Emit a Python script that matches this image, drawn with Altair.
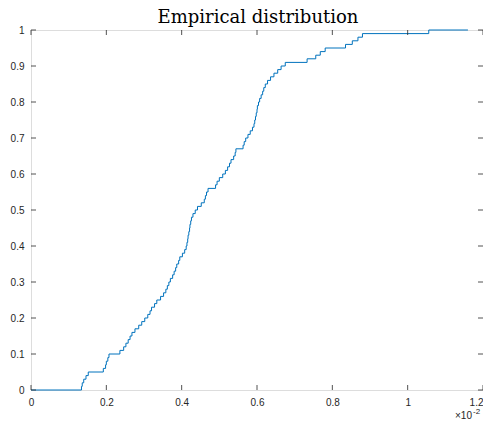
import altair as alt
import pandas as pd

# Sample values (in units of 1e-2)
samples = [
    0.134, 0.136, 0.140, 0.146, 0.152, 0.192, 0.198, 0.200, 0.204, 0.207,
    0.236, 0.246, 0.252, 0.258, 0.263, 0.268, 0.276, 0.286, 0.294, 0.302,
    0.310, 0.316, 0.320, 0.328, 0.334, 0.344, 0.352, 0.358, 0.362, 0.366,
    0.370, 0.376, 0.380, 0.384, 0.387, 0.392, 0.395, 0.402, 0.408, 0.412,
    0.414, 0.416, 0.417, 0.419, 0.421, 0.422, 0.424, 0.426, 0.430, 0.436,
    0.442, 0.452, 0.460, 0.463, 0.466, 0.470, 0.490, 0.494, 0.500, 0.509,
    0.516, 0.522, 0.527, 0.531, 0.538, 0.542, 0.544, 0.563, 0.566, 0.570,
    0.576, 0.582, 0.588, 0.592, 0.594, 0.596, 0.598, 0.600, 0.601, 0.604,
    0.607, 0.611, 0.615, 0.618, 0.622, 0.628, 0.636, 0.645, 0.655, 0.664,
    0.675, 0.733, 0.756, 0.768, 0.781, 0.835, 0.853, 0.868, 0.880, 1.056,
]
x_start = 0.0
x_end = 1.16

x_ticks = [0, 0.2, 0.4, 0.6, 0.8, 1.0, 1.2]
y_ticks = [0, 0.1, 0.2, 0.3, 0.4, 0.5, 0.6, 0.7, 0.8, 0.9, 1.0]

title_text = "Empirical distribution"
exp_base = "×10"
exp_power = "-2"

W, H = 452, 360

s = sorted(samples)
n = len(s)
rows = [{"x": x_start, "F": 0.0}]
for i, v in enumerate(s):
    rows.append({"x": v, "F": (i + 1) / n})
rows.append({"x": x_end, "F": 1.0})
df = pd.DataFrame(rows)

xs = alt.Scale(domain=[0, 1.2], nice=False, zero=False)
ys = alt.Scale(domain=[0, 1], nice=False, zero=False)
axis_col = "#262626"

x_axis = alt.Axis(values=x_ticks, format=".1~f", ticks=False, domain=False, grid=False,
                  labelFont="Liberation Sans", labelFontSize=10, labelColor=axis_col,
                  labelPadding=7, labelOverlap=False, labelFlush=False,
                  labelAlign={"condition": {"test": "datum.value >= 1.19", "value": "right"},
                              "value": "center"})
y_axis = alt.Axis(values=y_ticks, format=".1~f", ticks=False, domain=False, grid=False,
                  labelFont="Liberation Sans", labelFontSize=10, labelColor=axis_col,
                  labelPadding=7, labelOverlap=False, labelFlush=False)

line = alt.Chart(df).mark_line(
    interpolate="step-after", color="#0072BD", strokeWidth=1
).encode(
    x=alt.X("x:Q", scale=xs, title=None, axis=x_axis),
    y=alt.Y("F:Q", scale=ys, title=None, axis=y_axis),
)

xt = pd.DataFrame({"t": x_ticks})
yt = pd.DataFrame({"t": y_ticks})

tick_style = dict(color=axis_col, strokeWidth=0.8)
bx = alt.Chart(xt).mark_rule(**tick_style).encode(
    x=alt.X("t:Q", scale=xs, title=None, axis=x_axis), y=alt.value(H), y2=alt.value(H - 5))
tx = alt.Chart(xt).mark_rule(**tick_style).encode(
    x=alt.X("t:Q", scale=xs, title=None, axis=x_axis), y=alt.value(0), y2=alt.value(5))
ly = alt.Chart(yt).mark_rule(**tick_style).encode(
    y=alt.Y("t:Q", scale=ys, title=None, axis=y_axis), x=alt.value(0), x2=alt.value(5))
ry = alt.Chart(yt).mark_rule(**tick_style).encode(
    y=alt.Y("t:Q", scale=ys, title=None, axis=y_axis), x=alt.value(W), x2=alt.value(W - 5))

title = alt.Chart(pd.DataFrame({"t": [title_text]})).mark_text(
    font="DejaVu Serif", fontSize=18, color="black", baseline="alphabetic", align="center"
).encode(text="t:N", x=alt.value(W / 2 + 1), y=alt.value(-7))

base10 = alt.Chart(pd.DataFrame({"t": [exp_base]})).mark_text(
    font="Liberation Sans", fontSize=10, color=axis_col, baseline="alphabetic", align="right"
).encode(text="t:N", x=alt.value(441), y=alt.value(389))
power = alt.Chart(pd.DataFrame({"t": [exp_power]})).mark_text(
    font="Liberation Sans", fontSize=8, color=axis_col, baseline="alphabetic", align="left"
).encode(text="t:N", x=alt.value(442), y=alt.value(384))

chart = alt.layer(line, bx, tx, ly, ry, title, base10, power).properties(
    width=W, height=H,
    autosize=alt.AutoSizeParams(type="none"),
    padding={"left": 23, "top": 22, "right": 0, "bottom": 30},
).configure_view(stroke=axis_col, strokeWidth=0.8).configure(background="white")

chart.save("out.html", embed_options={"renderer": "svg", "actions": False})
